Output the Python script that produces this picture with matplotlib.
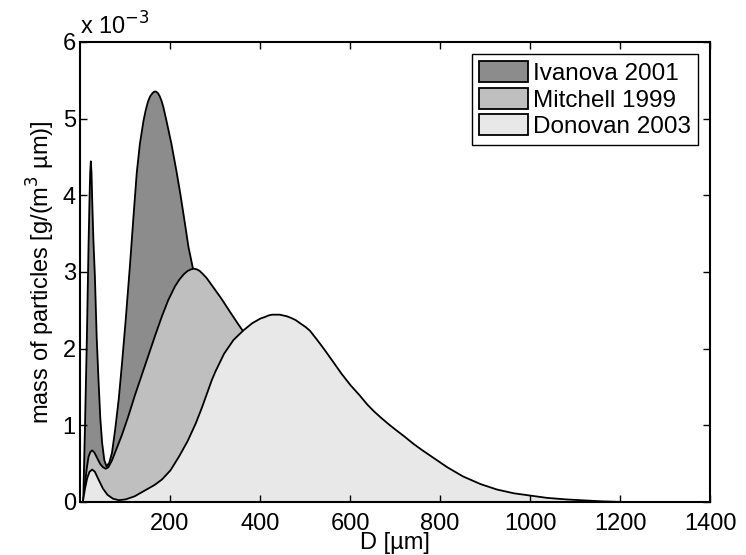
import numpy as np
import matplotlib
matplotlib.use("Agg")
import matplotlib.pyplot as plt

# Datos (D en µm, masa en unidades de 1e-3 g/(m^3 µm))
d_ivanova = [0, 6, 10, 14, 18, 20, 21.5, 23, 24.5, 26, 28.7, 32, 36, 40, 44, 48, 53, 58, 64,
             70, 77, 85, 92, 100, 110, 118, 125, 132, 140, 145, 150, 155, 160, 164, 168, 172,
             176, 180, 184, 191, 202, 213, 222, 231, 240, 250, 270, 300, 350, 400, 450, 500]
m_ivanova = [0, 0.0, 1.0, 2.1, 3.4, 3.95, 4.3, 4.45, 4.3, 3.95, 3.42, 2.95, 2.15, 1.6, 1.1,
             0.78, 0.55, 0.47, 0.52, 0.65, 0.95, 1.35, 1.8, 2.35, 3.1, 3.75, 4.3, 4.68, 4.98,
             5.12, 5.23, 5.3, 5.34, 5.36, 5.36, 5.34, 5.3, 5.24, 5.16, 4.98, 4.68, 4.33, 4.02,
             3.68, 3.33, 3.05, 2.4, 1.6, 0.8, 0.35, 0.1, 0]

d_mitchell = [0, 6, 10, 14, 18, 22, 26, 31, 37, 44, 50, 56, 62, 70, 80, 92, 106, 121, 136,
              151, 166, 181, 195, 210, 220, 230, 238, 245, 252, 259, 265, 272, 280, 296, 313,
              333, 350, 363, 400, 450, 500, 550, 600, 700, 800]
m_mitchell = [0, 0, 0.25, 0.45, 0.6, 0.66, 0.68, 0.65, 0.58, 0.5, 0.46, 0.44, 0.46, 0.55,
              0.7, 0.88, 1.12, 1.4, 1.66, 1.92, 2.18, 2.43, 2.64, 2.82, 2.91, 2.98, 3.02,
              3.04, 3.05, 3.04, 3.02, 2.98, 2.93, 2.8, 2.66, 2.48, 2.33, 2.22, 1.85, 1.3,
              0.85, 0.5, 0.25, 0.05, 0]

d_donovan = [0, 5, 10, 15, 20, 26, 32, 40, 50, 60, 72, 85, 100, 120, 144, 165, 181, 200,
             219, 238, 256, 270, 281, 292, 300, 319, 340, 363, 382, 400, 410, 418, 426, 435,
             443, 450, 458, 467, 478, 490, 500, 510, 518, 526, 535, 545, 562, 580, 600, 620,
             637, 652, 667, 685, 700, 720, 741, 760, 780, 800, 815, 850, 889, 925, 963, 1000,
             1037, 1080, 1111, 1160, 1200, 1300, 1400]
m_donovan = [0, 0, 0.18, 0.32, 0.4, 0.43, 0.4, 0.3, 0.18, 0.1, 0.05, 0.03, 0.04, 0.08, 0.16,
             0.23, 0.3, 0.42, 0.6, 0.8, 1.03, 1.24, 1.42, 1.6, 1.71, 1.94, 2.12, 2.25, 2.34,
             2.40, 2.42, 2.44, 2.45, 2.45, 2.45, 2.44, 2.43, 2.41, 2.38, 2.33, 2.29, 2.24,
             2.18, 2.12, 2.05, 1.97, 1.83, 1.68, 1.53, 1.4, 1.28, 1.19, 1.11, 1.02, 0.95,
             0.86, 0.76, 0.68, 0.6, 0.52, 0.46, 0.34, 0.24, 0.17, 0.12, 0.09, 0.06, 0.04,
             0.03, 0.015, 0.008, 0.002, 0]

etiquetas = ["Ivanova 2001", "Mitchell 1999", "Donovan 2003"]
colores = ["#8c8c8c", "#bfbfbf", "#e8e8e8"]
xticks = [200, 400, 600, 800, 1000, 1200, 1400]
yticks = [0, 1, 2, 3, 4, 5, 6]

plt.rcParams['font.family'] = ['Liberation Sans', 'DejaVu Sans']
plt.rcParams['font.size'] = 17

fig = plt.figure(figsize=(7.46, 5.55), dpi=100)
ax = fig.add_axes([80 / 746, 53 / 555, 630 / 746, 460 / 555])

series = [(d_ivanova, m_ivanova), (d_mitchell, m_mitchell), (d_donovan, m_donovan)]
for (d, m), etiqueta, color in zip(series, etiquetas, colores):
    ax.fill_between(d, 0, m, facecolor=color, edgecolor='k', linewidth=1.3,
                    joinstyle='round', label=etiqueta)

ax.set_xlim(0, 1400)
ax.set_ylim(0, 6)
ax.set_xticks(xticks)
ax.set_yticks(yticks)
ax.tick_params(direction='in', top=True, right=True, length=5, width=1, pad=3)
ax.tick_params(axis='x', pad=8)
for s in ax.spines.values():
    s.set_linewidth(1.5)

ax.text(0.0, 1.005, r"x 10$^{-3}$", transform=ax.transAxes, ha='left', va='bottom',
        fontsize=17)
ax.set_xlabel("D [µm]", labelpad=-2)
ax.set_ylabel(r"mass of particles [g/(m$^3$ µm)]", labelpad=4)

leg = ax.legend(loc='upper right', fancybox=False, framealpha=1, edgecolor='k',
                fontsize=17.5, handlelength=2.0, handleheight=0.95, handletextpad=0.2,
                labelspacing=0.1, borderpad=0.3, borderaxespad=0.5)
leg.get_frame().set_linewidth(1.0)

fig.savefig("out.png", dpi=100)
